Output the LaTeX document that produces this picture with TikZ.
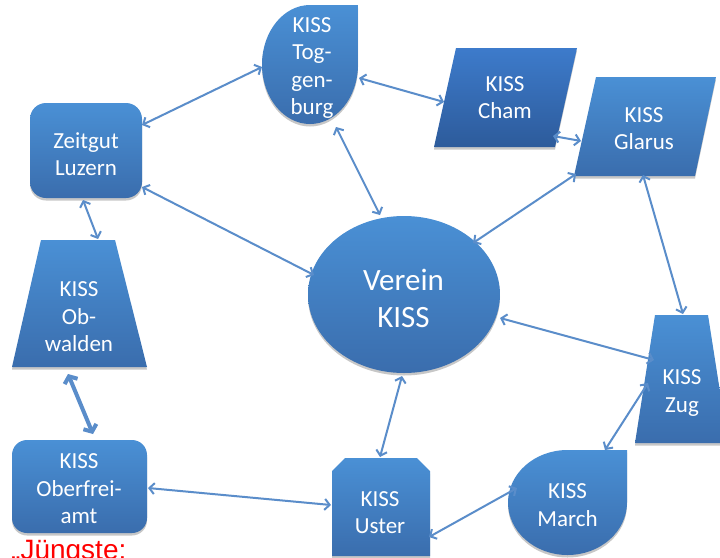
\documentclass[tikz,border=0pt]{standalone}
\usepackage{fontspec}
\setmainfont{Carlito}
\newfontfamily\arialfont{Liberation Sans}
\usetikzlibrary{arrows.meta,shadows}
\definecolor{kTop}{HTML}{4A90D5}
\definecolor{kBot}{HTML}{3A6DAD}
\definecolor{dTop}{HTML}{3D7BCB}
\definecolor{dBot}{HTML}{2D5B9B}
\definecolor{connc}{HTML}{5A8DCA}
\begin{document}
\begin{tikzpicture}[x=1pt,y=-1pt,
  shp/.style={top color=kTop, bottom color=kBot, draw=none,
    drop shadow={shadow xshift=0pt,shadow yshift=-2.5pt,opacity=0.22,fill=black}},
  shpdark/.style={shp, top color=dTop, bottom color=dBot},
  lbl/.style={text=white, align=center, inner sep=0pt,
    font=\fontsize{23}{27.5}\selectfont},
  biglbl/.style={lbl, font=\fontsize{31}{37}\selectfont},
  conn/.style={draw=connc, line width=2pt,
    {Straight Barb[length=5pt,width=11pt]}-{Straight Barb[length=5pt,width=11pt]}},
  thickconn/.style={draw=connc, line width=4pt,
    {Straight Barb[length=5.5pt,width=14pt]}-{Straight Barb[length=5.5pt,width=14pt]}}
]
\useasboundingbox (0,0) rectangle (720,557);
\clip (0,0) rectangle (720,557);
\fill[white] (0,0) rectangle (720,557);

% shapes
\path[shp] (310,5) -- (358,5) -- (358,64.5)
  arc[start angle=0,end angle=180,x radius=48,y radius=59.5]
  arc[start angle=180,end angle=270,x radius=48,y radius=59.5] -- cycle;
\path[shpdark] (456,48) -- (577,48) -- (555,147) -- (434,147) -- cycle;
\path[shp] (596,77) -- (716,77) -- (695,176) -- (574,176) -- cycle;
\path[shp, rounded corners=16pt] (30,103) rectangle (142,198);
\path[shp] (41,240) -- (115,240) -- (147,367) -- (12,367) -- cycle;
\path[shp, rounded corners=15pt] (12,440) rectangle (147,533);
\path[shp] (404,294.5) ellipse[x radius=96, y radius=78.5];
\path[shp] (655,315) -- (708,315) -- (728,443) -- (635,443) -- cycle;
\path[shp] (332,471) -- (345,458) -- (417,458) -- (430,471) -- (430,556) -- (332,556) -- cycle;
\path[shp] (567.5,450) -- (627,450) -- (627,502.5)
  arc[start angle=0,end angle=180,x radius=59.5,y radius=52.5]
  arc[start angle=180,end angle=270,x radius=59.5,y radius=52.5] -- cycle;

% labels
\node[lbl] (toggenburg) at (312,68) {KISS\\Tog-\\gen-\\burg};
\node[lbl] (cham) at (505,97.5) {KISS\\Cham};
\node[lbl] (glarus) at (644,128.5) {KISS\\Glarus};
\node[lbl] (zeitgut) at (86,154) {Zeitgut\\Luzern};
\node[lbl] (obwalden) at (79,317) {KISS\\Ob-\\walden};
\node[lbl] (oberfreiamt) at (79,489) {KISS\\Oberfrei-\\amt};
\node[biglbl] (verein) at (403.5,298.5) {Verein\\KISS};
\node[lbl] (zug) at (682,393) {KISS\\Zug};
\node[lbl] (uster) at (380,512.5) {KISS\\Uster};
\node[lbl] (march) at (567.5,505) {KISS\\March};
\node[anchor=base west, inner sep=0pt, text=red,
  font=\arialfont\fontsize{28}{32}\selectfont] (juengste) at (11,559) {„Jüngste:};

% connector end points on the nodes
\coordinate (zeitgut-a) at (142,125);  \coordinate (toggenburg-a) at (262,67);
\coordinate (zeitgut-b) at (142,187);  \coordinate (verein-a) at (314,275);
\coordinate (toggenburg-b) at (336,127); \coordinate (verein-b) at (380,215);
\coordinate (toggenburg-c) at (359,78); \coordinate (cham-a) at (444,102);
\coordinate (cham-b) at (553,136);     \coordinate (glarus-a) at (581,141);
\coordinate (glarus-b) at (576,174);   \coordinate (verein-c) at (473,243);
\coordinate (glarus-c) at (643,175);   \coordinate (zug-a) at (683,314);
\coordinate (verein-d) at (500,318);   \coordinate (zug-b) at (654,360);
\coordinate (zug-c) at (648,383);      \coordinate (march-a) at (605,450);
\coordinate (march-b) at (517,488);    \coordinate (uster-a) at (429,537);
\coordinate (uster-b) at (380,457);    \coordinate (verein-e) at (402,376);
\coordinate (oberfreiamt-a) at (148,488); \coordinate (uster-c) at (331,505);
\coordinate (obwalden-a) at (68,374);  \coordinate (oberfreiamt-b) at (93,434);
\coordinate (zeitgut-c) at (83,200);   \coordinate (obwalden-b) at (98,239);

% connectors
\draw[conn] (zeitgut-a) -- (toggenburg-a);
\draw[conn] (zeitgut-b) -- (verein-a);
\draw[conn] (toggenburg-b) -- (verein-b);
\draw[conn] (toggenburg-c) -- (cham-a);
\draw[conn] (cham-b) -- (glarus-a);
\draw[conn] (glarus-b) -- (verein-c);
\draw[conn] (glarus-c) -- (zug-a);
\draw[conn] (verein-d) -- (zug-b);
\draw[conn] (zug-c) -- (march-a);
\draw[conn] (march-b) -- (uster-a);
\draw[conn] (uster-b) -- (verein-e);
\draw[conn] (oberfreiamt-a) -- (uster-c);
\draw[thickconn] (obwalden-a) -- (oberfreiamt-b);
\draw[conn] (zeitgut-c) -- (obwalden-b);
\end{tikzpicture}
\end{document}
